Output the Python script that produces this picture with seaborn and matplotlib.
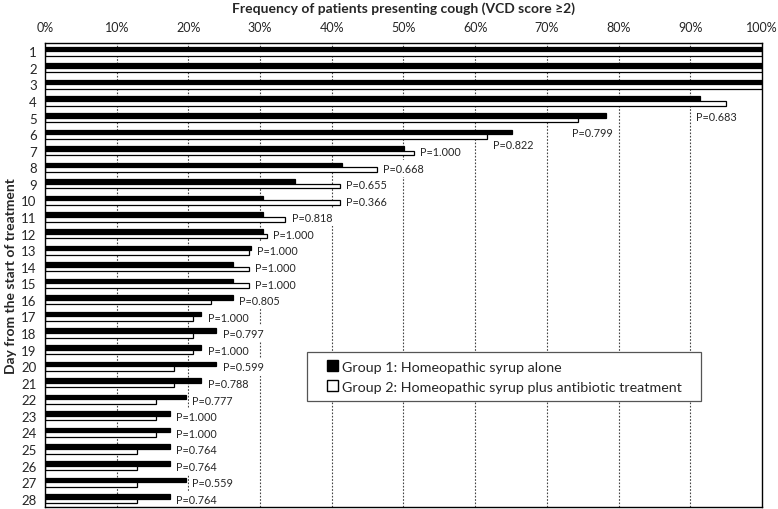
import matplotlib
matplotlib.use("Agg")
import matplotlib.pyplot as plt
from matplotlib.patches import Patch, Rectangle
import seaborn as sns
import pandas as pd
import numpy as np

days = list(range(1, 29))
group1 = [100, 100, 100, 91.4, 78.3, 65.2, 50.1, 41.4, 34.9, 30.4, 30.4, 30.4, 28.7, 26.2,
          26.2, 26.2, 21.8, 23.9, 21.8, 23.9, 21.8, 19.6, 17.4, 17.4, 17.4, 17.4, 19.6, 17.4]
group2 = [100, 100, 100, 95.0, 74.4, 61.6, 51.4, 46.3, 41.1, 41.1, 33.5, 30.9, 28.4, 28.4,
          28.4, 23.2, 20.6, 20.6, 20.6, 18.0, 18.0, 15.5, 15.5, 15.5, 12.9, 12.9, 12.9, 12.9]
p_values = [None, None, None, "0.683", "0.799", "0.822", "1.000", "0.668", "0.655", "0.366",
            "0.818", "1.000", "1.000", "1.000", "1.000", "0.805", "1.000", "0.797", "1.000",
            "0.599", "0.788", "0.777", "1.000", "1.000", "0.764", "0.764", "0.559", "0.764"]
x_ticks = [0, 10, 20, 30, 40, 50, 60, 70, 80, 90, 100]
g1_name = "Group 1: Homeopathic syrup alone"
g2_name = "Group 2: Homeopathic syrup plus antibiotic treatment"

df = pd.DataFrame({
    "day": [str(d) for d in days] * 2,
    "value": group1 + group2,
    "group": [g1_name] * len(days) + [g2_name] * len(days),
})

sns.set_theme(style="white")
plt.rcParams["font.family"] = ["Lato", "DejaVu Sans"]

fig = plt.figure(figsize=(7.78, 5.10), dpi=100)
ax = fig.add_axes([45 / 778, 1 - 508 / 510, 717 / 778, 464 / 510])

sns.barplot(data=df, y="day", x="value", hue="group", orient="h",
            palette=["black", "white"], edgecolor="black", linewidth=0.9,
            width=0.56, dodge=True, legend=False, ax=ax, zorder=3)

ax.set_xlim(0, 100)
ax.set_ylim(27.5, -0.5)
for gx in x_ticks[1:-1]:
    ax.axvline(gx, color="#444444", linestyle=(0, (1.5, 1.5)), linewidth=0.8, zorder=1)

ax.xaxis.tick_top()
ax.set_xticks(x_ticks)
ax.set_xticklabels([f"{t}%" for t in x_ticks], fontsize=9)
ax.tick_params(axis="x", length=0, pad=7)
ax.tick_params(axis="y", length=0, pad=6, labelsize=9.5)
ax.set_xlabel("")
ax.set_ylabel("Day from the start of treatment", fontsize=10, fontweight="bold")
ax.yaxis.set_label_coords((17 - 45) / 717, 0.5)
for sp in ax.spines.values():
    sp.set_color("black")
    sp.set_linewidth(1.0)
    sp.set_zorder(5)

fig.text((45 + 762) / 2 / 778, 1 - 9 / 510, "Frequency of patients presenting cough (VCD score ≥2)",
         ha="center", va="center", fontsize=10, fontweight="bold")

# P-value labels: default right of the longer bar; a few placed below the bars
special = {4: (90.8, 0.95), 5: (73.5, 0.9), 6: (62.5, 0.6)}
for i, p in enumerate(p_values):
    if p is None:
        continue
    d = days[i]
    if d in special:
        lx, dy = special[d]
    else:
        lx, dy = max(group1[i], group2[i]) + 0.9, 0.05
    ax.text(lx, i + dy, f"P={p}", ha="left", va="center", fontsize=7.8, zorder=4,
            bbox=dict(facecolor="white", edgecolor="none", pad=2.2))

# legend frame (wider horizontal padding than matplotlib's uniform borderpad)
fx0, fx1 = (307 - 45) / 717, (701 - 45) / 717
fy0, fy1 = (508 - 402) / 464, (508 - 353) / 464
ax.add_patch(Rectangle((fx0, fy0), fx1 - fx0, fy1 - fy0, transform=ax.transAxes,
                       facecolor="white", edgecolor="#555555", linewidth=0.9,
                       zorder=6, clip_on=False))
handles = [Patch(facecolor="black", edgecolor="black", label=g1_name),
           Patch(facecolor="white", edgecolor="black", label=g2_name)]
leg = ax.legend(handles=handles, loc="center left",
                bbox_to_anchor=(fx0 + 20 / 717, (fy0 + fy1) / 2),
                frameon=False, fontsize=10.3, handlelength=0.75,
                handleheight=0.75, handletextpad=0.3, borderpad=0, labelspacing=0.55,
                borderaxespad=0)
leg.set_zorder(7)

fig.savefig("out.png", dpi=100)
